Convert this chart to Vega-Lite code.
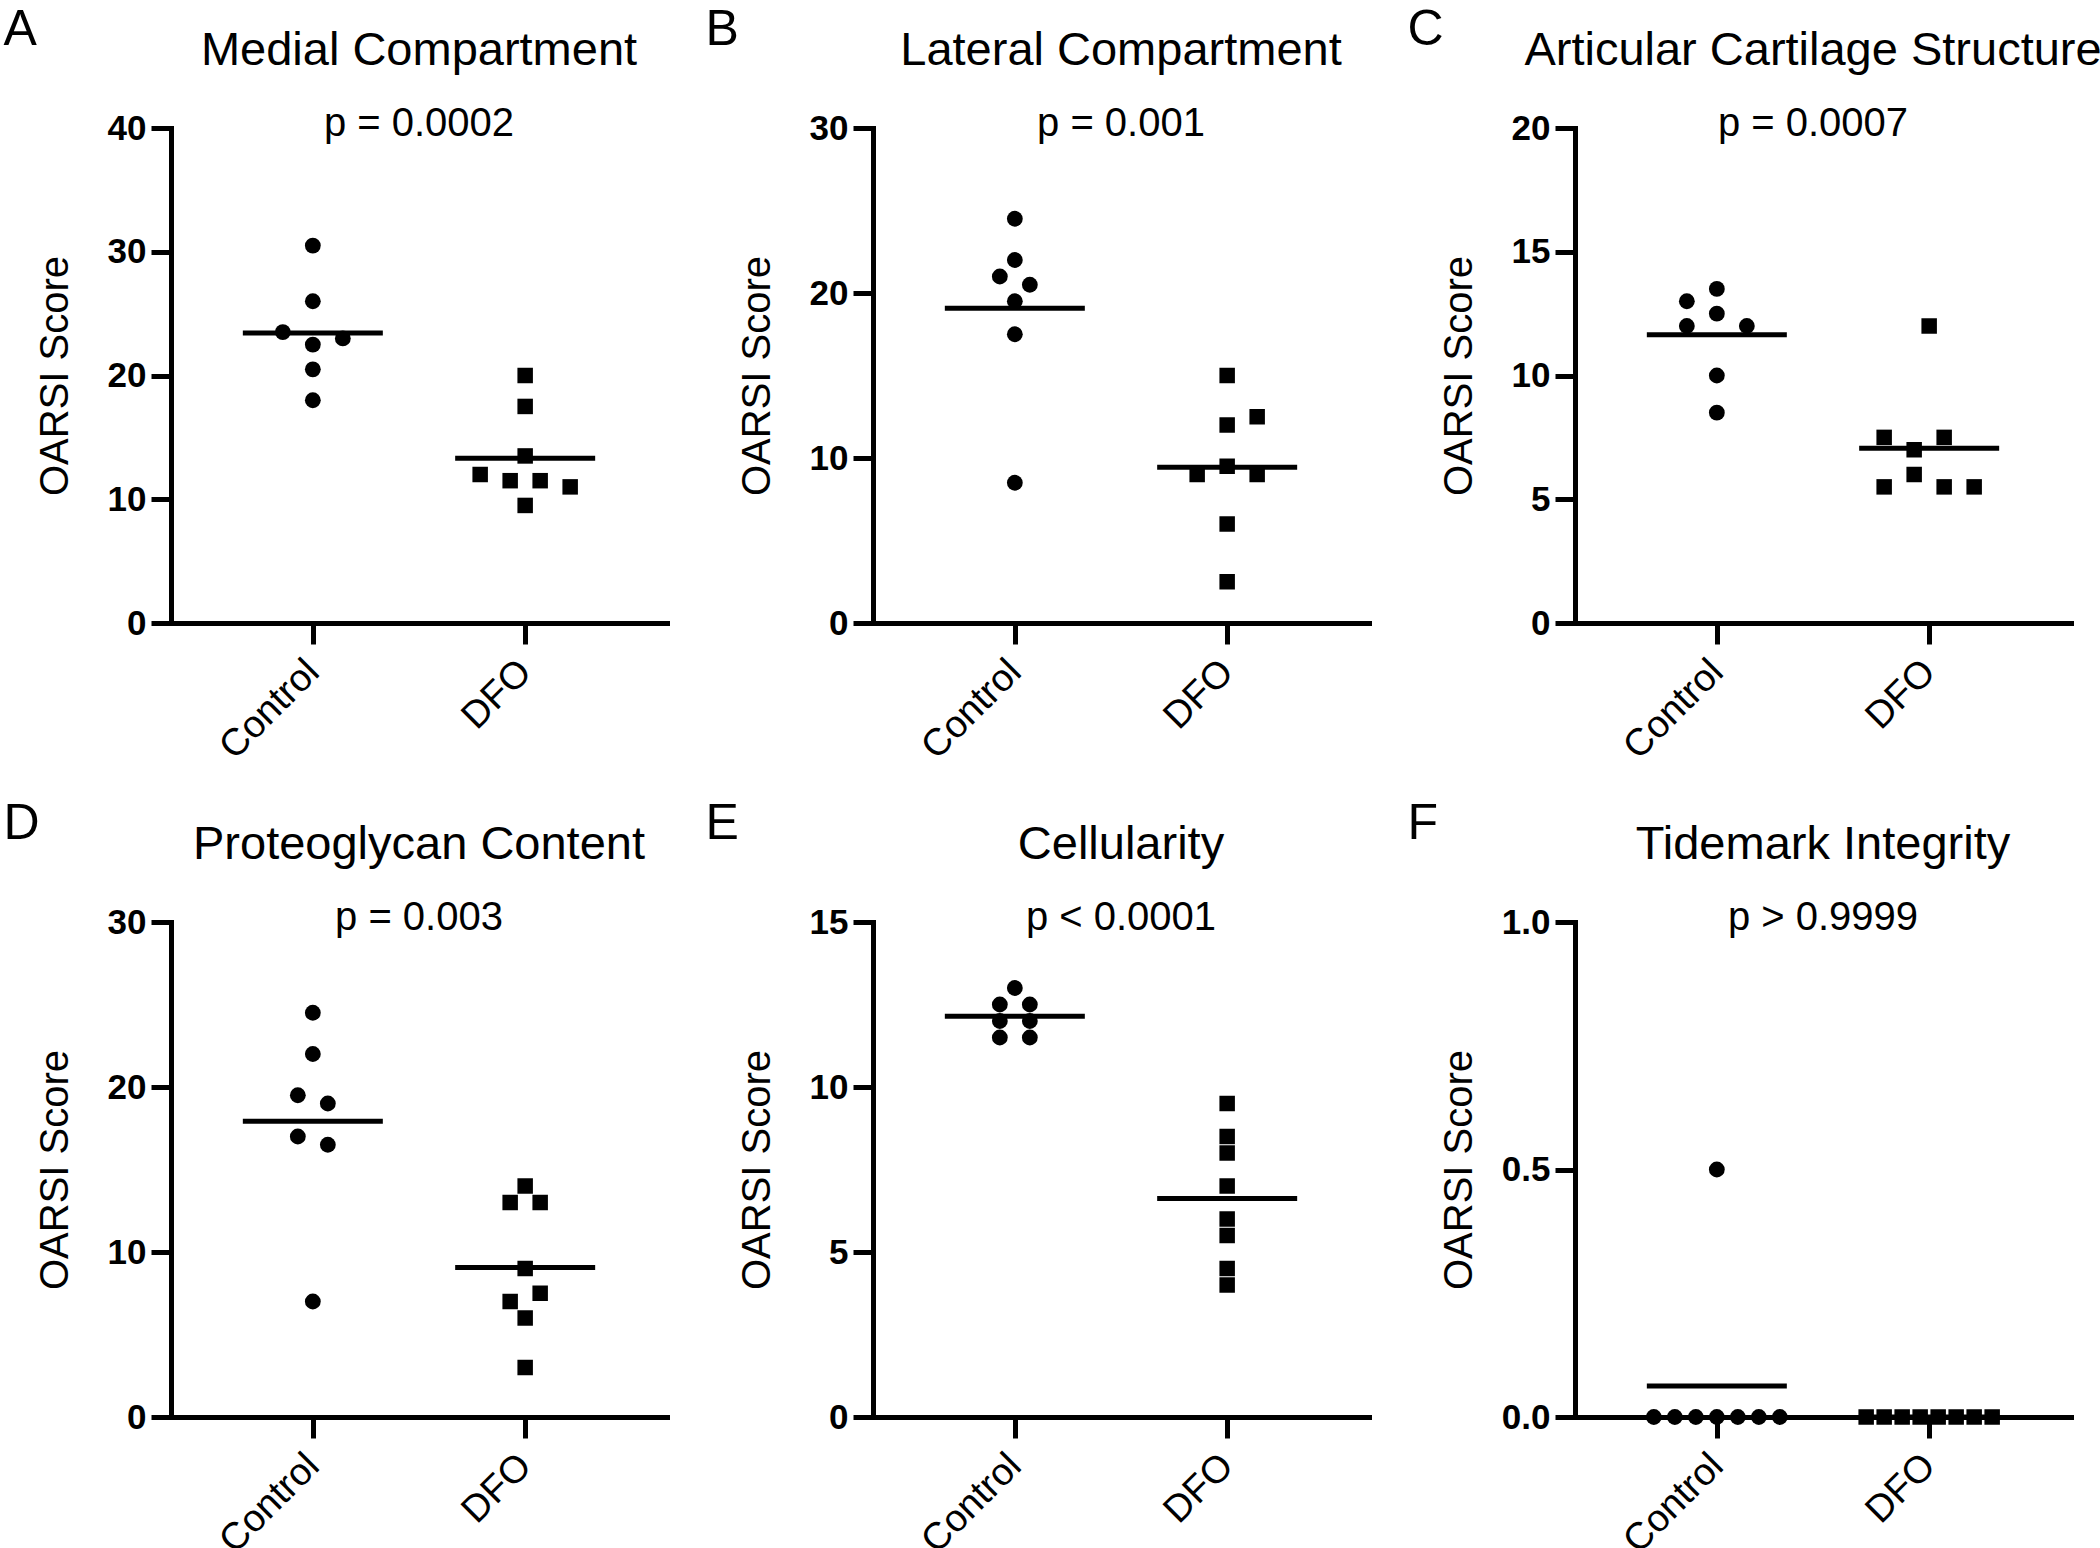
{
  "$schema": "https://vega.github.io/schema/vega-lite/v6.json",
  "padding": {"left": 3, "top": 4, "right": 0, "bottom": 0},
  "background": "white",
  "data": {"values": [
    {"panel": "A", "group": "Control", "score": 30.5, "dodge": 0},
    {"panel": "A", "group": "Control", "score": 26, "dodge": 0},
    {"panel": "A", "group": "Control", "score": 23.5, "dodge": -2},
    {"panel": "A", "group": "Control", "score": 23, "dodge": 2},
    {"panel": "A", "group": "Control", "score": 22.5, "dodge": 0},
    {"panel": "A", "group": "Control", "score": 20.5, "dodge": 0},
    {"panel": "A", "group": "Control", "score": 18, "dodge": 0},
    {"panel": "A", "group": "DFO", "score": 20, "dodge": 0},
    {"panel": "A", "group": "DFO", "score": 17.5, "dodge": 0},
    {"panel": "A", "group": "DFO", "score": 13.5, "dodge": 0},
    {"panel": "A", "group": "DFO", "score": 12, "dodge": -3},
    {"panel": "A", "group": "DFO", "score": 11.5, "dodge": -1},
    {"panel": "A", "group": "DFO", "score": 11.5, "dodge": 1},
    {"panel": "A", "group": "DFO", "score": 11, "dodge": 3},
    {"panel": "A", "group": "DFO", "score": 9.5, "dodge": 0},
    {"panel": "B", "group": "Control", "score": 24.5, "dodge": 0},
    {"panel": "B", "group": "Control", "score": 22, "dodge": 0},
    {"panel": "B", "group": "Control", "score": 21, "dodge": -1},
    {"panel": "B", "group": "Control", "score": 20.5, "dodge": 1},
    {"panel": "B", "group": "Control", "score": 19.5, "dodge": 0},
    {"panel": "B", "group": "Control", "score": 17.5, "dodge": 0},
    {"panel": "B", "group": "Control", "score": 8.5, "dodge": 0},
    {"panel": "B", "group": "DFO", "score": 15, "dodge": 0},
    {"panel": "B", "group": "DFO", "score": 12.5, "dodge": 2},
    {"panel": "B", "group": "DFO", "score": 12, "dodge": 0},
    {"panel": "B", "group": "DFO", "score": 9.5, "dodge": 0},
    {"panel": "B", "group": "DFO", "score": 9, "dodge": -2},
    {"panel": "B", "group": "DFO", "score": 9, "dodge": 2},
    {"panel": "B", "group": "DFO", "score": 6, "dodge": 0},
    {"panel": "B", "group": "DFO", "score": 2.5, "dodge": 0},
    {"panel": "C", "group": "Control", "score": 13.5, "dodge": 0},
    {"panel": "C", "group": "Control", "score": 13, "dodge": -2},
    {"panel": "C", "group": "Control", "score": 12.5, "dodge": 0},
    {"panel": "C", "group": "Control", "score": 12, "dodge": -2},
    {"panel": "C", "group": "Control", "score": 12, "dodge": 2},
    {"panel": "C", "group": "Control", "score": 10, "dodge": 0},
    {"panel": "C", "group": "Control", "score": 8.5, "dodge": 0},
    {"panel": "C", "group": "DFO", "score": 12, "dodge": 0},
    {"panel": "C", "group": "DFO", "score": 7.5, "dodge": -3},
    {"panel": "C", "group": "DFO", "score": 7.5, "dodge": 1},
    {"panel": "C", "group": "DFO", "score": 7, "dodge": -1},
    {"panel": "C", "group": "DFO", "score": 6, "dodge": -1},
    {"panel": "C", "group": "DFO", "score": 5.5, "dodge": -3},
    {"panel": "C", "group": "DFO", "score": 5.5, "dodge": 1},
    {"panel": "C", "group": "DFO", "score": 5.5, "dodge": 3},
    {"panel": "D", "group": "Control", "score": 24.5, "dodge": 0},
    {"panel": "D", "group": "Control", "score": 22, "dodge": 0},
    {"panel": "D", "group": "Control", "score": 19.5, "dodge": -1},
    {"panel": "D", "group": "Control", "score": 19, "dodge": 1},
    {"panel": "D", "group": "Control", "score": 17, "dodge": -1},
    {"panel": "D", "group": "Control", "score": 16.5, "dodge": 1},
    {"panel": "D", "group": "Control", "score": 7, "dodge": 0},
    {"panel": "D", "group": "DFO", "score": 14, "dodge": 0},
    {"panel": "D", "group": "DFO", "score": 13, "dodge": -1},
    {"panel": "D", "group": "DFO", "score": 13, "dodge": 1},
    {"panel": "D", "group": "DFO", "score": 9, "dodge": 0},
    {"panel": "D", "group": "DFO", "score": 7.5, "dodge": 1},
    {"panel": "D", "group": "DFO", "score": 7, "dodge": -1},
    {"panel": "D", "group": "DFO", "score": 6, "dodge": 0},
    {"panel": "D", "group": "DFO", "score": 3, "dodge": 0},
    {"panel": "E", "group": "Control", "score": 13, "dodge": 0},
    {"panel": "E", "group": "Control", "score": 12.5, "dodge": -1},
    {"panel": "E", "group": "Control", "score": 12.5, "dodge": 1},
    {"panel": "E", "group": "Control", "score": 12, "dodge": -1},
    {"panel": "E", "group": "Control", "score": 12, "dodge": 1},
    {"panel": "E", "group": "Control", "score": 11.5, "dodge": -1},
    {"panel": "E", "group": "Control", "score": 11.5, "dodge": 1},
    {"panel": "E", "group": "DFO", "score": 9.5, "dodge": 0},
    {"panel": "E", "group": "DFO", "score": 8.5, "dodge": 0},
    {"panel": "E", "group": "DFO", "score": 8, "dodge": 0},
    {"panel": "E", "group": "DFO", "score": 7, "dodge": 0},
    {"panel": "E", "group": "DFO", "score": 6, "dodge": 0},
    {"panel": "E", "group": "DFO", "score": 5.5, "dodge": 0},
    {"panel": "E", "group": "DFO", "score": 4.5, "dodge": 0},
    {"panel": "E", "group": "DFO", "score": 4, "dodge": 0},
    {"panel": "F", "group": "Control", "score": 0.5, "dodge": 0},
    {"panel": "F", "group": "Control", "score": 0, "dodge": -4.2},
    {"panel": "F", "group": "Control", "score": 0, "dodge": -2.8},
    {"panel": "F", "group": "Control", "score": 0, "dodge": -1.4},
    {"panel": "F", "group": "Control", "score": 0, "dodge": 0},
    {"panel": "F", "group": "Control", "score": 0, "dodge": 1.4},
    {"panel": "F", "group": "Control", "score": 0, "dodge": 2.8},
    {"panel": "F", "group": "Control", "score": 0, "dodge": 4.2},
    {"panel": "F", "group": "DFO", "score": 0, "dodge": -4.2},
    {"panel": "F", "group": "DFO", "score": 0, "dodge": -3},
    {"panel": "F", "group": "DFO", "score": 0, "dodge": -1.8},
    {"panel": "F", "group": "DFO", "score": 0, "dodge": -0.6},
    {"panel": "F", "group": "DFO", "score": 0, "dodge": 0.6},
    {"panel": "F", "group": "DFO", "score": 0, "dodge": 1.8},
    {"panel": "F", "group": "DFO", "score": 0, "dodge": 3},
    {"panel": "F", "group": "DFO", "score": 0, "dodge": 4.2}
  ]},
  "columns": 3,
  "spacing": {"row": 299, "column": 206},
  "bounds": "flush",
  "concat": [
    {
      "width": 496, "height": 495,
      "title": {"text": "Medial Compartment", "subtitle": "p = 0.0002"},
      "transform": [{"filter": {"field": "panel", "equal": "A"}}],
      "resolve": {"axis": {"x": "independent"}},
      "layer": [
        {"mark": {"type": "point", "filled": true, "opacity": 1, "color": "black", "strokeWidth": 0},
         "encoding": {
           "x": {"field": "group", "type": "nominal", "title": null, "scale": {"type": "point", "padding": 0.668, "domain": ["Control", "DFO"]}, "axis": {"orient": "bottom"}},
           "xOffset": {"field": "dodge", "type": "quantitative", "scale": {"domain": [-1, 1], "range": [-15, 15]}},
           "y": {"field": "score", "type": "quantitative", "title": "OARSI Score", "scale": {"domain": [0, 40], "nice": false}, "axis": {"values": [0, 10, 20, 30, 40]}},
           "shape": {"field": "group", "type": "nominal", "scale": {"domain": ["Control", "DFO"], "range": ["circle", "square"]}, "legend": null},
           "size": {"field": "group", "type": "ordinal", "scale": {"domain": ["Control", "DFO"], "range": [250, 240]}, "legend": null}
         }},
        {"mark": {"type": "tick", "color": "black", "size": 140, "thickness": 5, "opacity": 1},
         "encoding": {
           "x": {"field": "group", "type": "nominal", "title": "A", "scale": {"type": "point", "padding": 0.668, "domain": ["Control", "DFO"]}, "axis": {"orient": "top"}},
           "y": {"aggregate": "mean", "field": "score", "type": "quantitative", "title": "OARSI Score", "scale": {"domain": [0, 40], "nice": false}}
         }}
      ]
    },
    {
      "width": 496, "height": 495,
      "title": {"text": "Lateral Compartment", "subtitle": "p = 0.001"},
      "transform": [{"filter": {"field": "panel", "equal": "B"}}],
      "resolve": {"axis": {"x": "independent"}},
      "layer": [
        {"mark": {"type": "point", "filled": true, "opacity": 1, "color": "black", "strokeWidth": 0},
         "encoding": {
           "x": {"field": "group", "type": "nominal", "title": null, "scale": {"type": "point", "padding": 0.668, "domain": ["Control", "DFO"]}, "axis": {"orient": "bottom"}},
           "xOffset": {"field": "dodge", "type": "quantitative", "scale": {"domain": [-1, 1], "range": [-15, 15]}},
           "y": {"field": "score", "type": "quantitative", "title": "OARSI Score", "scale": {"domain": [0, 30], "nice": false}, "axis": {"values": [0, 10, 20, 30]}},
           "shape": {"field": "group", "type": "nominal", "scale": {"domain": ["Control", "DFO"], "range": ["circle", "square"]}, "legend": null},
           "size": {"field": "group", "type": "ordinal", "scale": {"domain": ["Control", "DFO"], "range": [250, 240]}, "legend": null}
         }},
        {"mark": {"type": "tick", "color": "black", "size": 140, "thickness": 5, "opacity": 1},
         "encoding": {
           "x": {"field": "group", "type": "nominal", "title": "B", "scale": {"type": "point", "padding": 0.668, "domain": ["Control", "DFO"]}, "axis": {"orient": "top"}},
           "y": {"aggregate": "mean", "field": "score", "type": "quantitative", "title": "OARSI Score", "scale": {"domain": [0, 30], "nice": false}}
         }}
      ]
    },
    {
      "width": 496, "height": 495,
      "title": {"text": "Articular Cartilage Structure", "subtitle": "p = 0.0007", "dx": -10},
      "transform": [{"filter": {"field": "panel", "equal": "C"}}],
      "resolve": {"axis": {"x": "independent"}},
      "layer": [
        {"mark": {"type": "point", "filled": true, "opacity": 1, "color": "black", "strokeWidth": 0},
         "encoding": {
           "x": {"field": "group", "type": "nominal", "title": null, "scale": {"type": "point", "padding": 0.668, "domain": ["Control", "DFO"]}, "axis": {"orient": "bottom"}},
           "xOffset": {"field": "dodge", "type": "quantitative", "scale": {"domain": [-1, 1], "range": [-15, 15]}},
           "y": {"field": "score", "type": "quantitative", "title": "OARSI Score", "scale": {"domain": [0, 20], "nice": false}, "axis": {"values": [0, 5, 10, 15, 20]}},
           "shape": {"field": "group", "type": "nominal", "scale": {"domain": ["Control", "DFO"], "range": ["circle", "square"]}, "legend": null},
           "size": {"field": "group", "type": "ordinal", "scale": {"domain": ["Control", "DFO"], "range": [250, 240]}, "legend": null}
         }},
        {"mark": {"type": "tick", "color": "black", "size": 140, "thickness": 5, "opacity": 1},
         "encoding": {
           "x": {"field": "group", "type": "nominal", "title": "C", "scale": {"type": "point", "padding": 0.668, "domain": ["Control", "DFO"]}, "axis": {"orient": "top"}},
           "y": {"aggregate": "mean", "field": "score", "type": "quantitative", "title": "OARSI Score", "scale": {"domain": [0, 20], "nice": false}}
         }}
      ]
    },
    {
      "width": 496, "height": 495,
      "title": {"text": "Proteoglycan Content", "subtitle": "p = 0.003"},
      "transform": [{"filter": {"field": "panel", "equal": "D"}}],
      "resolve": {"axis": {"x": "independent"}},
      "layer": [
        {"mark": {"type": "point", "filled": true, "opacity": 1, "color": "black", "strokeWidth": 0},
         "encoding": {
           "x": {"field": "group", "type": "nominal", "title": null, "scale": {"type": "point", "padding": 0.668, "domain": ["Control", "DFO"]}, "axis": {"orient": "bottom"}},
           "xOffset": {"field": "dodge", "type": "quantitative", "scale": {"domain": [-1, 1], "range": [-15, 15]}},
           "y": {"field": "score", "type": "quantitative", "title": "OARSI Score", "scale": {"domain": [0, 30], "nice": false}, "axis": {"values": [0, 10, 20, 30]}},
           "shape": {"field": "group", "type": "nominal", "scale": {"domain": ["Control", "DFO"], "range": ["circle", "square"]}, "legend": null},
           "size": {"field": "group", "type": "ordinal", "scale": {"domain": ["Control", "DFO"], "range": [250, 240]}, "legend": null}
         }},
        {"mark": {"type": "tick", "color": "black", "size": 140, "thickness": 5, "opacity": 1},
         "encoding": {
           "x": {"field": "group", "type": "nominal", "title": "D", "scale": {"type": "point", "padding": 0.668, "domain": ["Control", "DFO"]}, "axis": {"orient": "top"}},
           "y": {"aggregate": "mean", "field": "score", "type": "quantitative", "title": "OARSI Score", "scale": {"domain": [0, 30], "nice": false}}
         }}
      ]
    },
    {
      "width": 496, "height": 495,
      "title": {"text": "Cellularity", "subtitle": "p < 0.0001"},
      "transform": [{"filter": {"field": "panel", "equal": "E"}}],
      "resolve": {"axis": {"x": "independent"}},
      "layer": [
        {"mark": {"type": "point", "filled": true, "opacity": 1, "color": "black", "strokeWidth": 0},
         "encoding": {
           "x": {"field": "group", "type": "nominal", "title": null, "scale": {"type": "point", "padding": 0.668, "domain": ["Control", "DFO"]}, "axis": {"orient": "bottom"}},
           "xOffset": {"field": "dodge", "type": "quantitative", "scale": {"domain": [-1, 1], "range": [-15, 15]}},
           "y": {"field": "score", "type": "quantitative", "title": "OARSI Score", "scale": {"domain": [0, 15], "nice": false}, "axis": {"values": [0, 5, 10, 15]}},
           "shape": {"field": "group", "type": "nominal", "scale": {"domain": ["Control", "DFO"], "range": ["circle", "square"]}, "legend": null},
           "size": {"field": "group", "type": "ordinal", "scale": {"domain": ["Control", "DFO"], "range": [250, 240]}, "legend": null}
         }},
        {"mark": {"type": "tick", "color": "black", "size": 140, "thickness": 5, "opacity": 1},
         "encoding": {
           "x": {"field": "group", "type": "nominal", "title": "E", "scale": {"type": "point", "padding": 0.668, "domain": ["Control", "DFO"]}, "axis": {"orient": "top"}},
           "y": {"aggregate": "mean", "field": "score", "type": "quantitative", "title": "OARSI Score", "scale": {"domain": [0, 15], "nice": false}}
         }}
      ]
    },
    {
      "width": 496, "height": 495,
      "title": {"text": "Tidemark Integrity", "subtitle": "p > 0.9999"},
      "transform": [{"filter": {"field": "panel", "equal": "F"}}],
      "resolve": {"axis": {"x": "independent"}},
      "layer": [
        {"mark": {"type": "point", "filled": true, "opacity": 1, "color": "black", "strokeWidth": 0},
         "encoding": {
           "x": {"field": "group", "type": "nominal", "title": null, "scale": {"type": "point", "padding": 0.668, "domain": ["Control", "DFO"]}, "axis": {"orient": "bottom"}},
           "xOffset": {"field": "dodge", "type": "quantitative", "scale": {"domain": [-1, 1], "range": [-15, 15]}},
           "y": {"field": "score", "type": "quantitative", "title": "OARSI Score", "scale": {"domain": [0, 1], "nice": false}, "axis": {"values": [0, 0.5, 1], "format": ".1f"}},
           "shape": {"field": "group", "type": "nominal", "scale": {"domain": ["Control", "DFO"], "range": ["circle", "square"]}, "legend": null},
           "size": {"field": "group", "type": "ordinal", "scale": {"domain": ["Control", "DFO"], "range": [250, 240]}, "legend": null}
         }},
        {"mark": {"type": "tick", "color": "black", "size": 140, "thickness": 5, "opacity": 1},
         "encoding": {
           "x": {"field": "group", "type": "nominal", "title": "F", "scale": {"type": "point", "padding": 0.668, "domain": ["Control", "DFO"]}, "axis": {"orient": "top"}},
           "y": {"aggregate": "mean", "field": "score", "type": "quantitative", "title": "OARSI Score", "scale": {"domain": [0, 1], "nice": false}}
         }}
      ]
    }
  ],
  "config": {
    "font": "Liberation Sans",
    "view": {"stroke": null},
    "title": {"anchor": "middle", "frame": "group", "fontSize": 47, "fontWeight": "normal", "color": "black", "subtitleFontSize": 40, "subtitleColor": "black", "subtitleFont": "Liberation Sans", "offset": -141, "subtitlePadding": 29},
    "axisLeft": {"domainColor": "black", "domainWidth": 5, "domainCap": "square", "tickColor": "black", "tickWidth": 5, "tickSize": 20, "labelFontSize": 35, "labelFontWeight": "bold", "labelColor": "black", "labelPadding": 5, "grid": false, "titleFontSize": 40, "titleFontWeight": "normal", "titleColor": "black", "titleX": -104, "titleBaseline": "alphabetic"},
    "axisBottom": {"domainColor": "black", "domainWidth": 5, "domainCap": "square", "tickColor": "black", "tickWidth": 5, "tickSize": 21, "labelAngle": -45, "labelFontSize": 38, "labelColor": "black", "labelPadding": 22, "labelAlign": "right", "labelBaseline": "middle", "grid": false},
    "axisTop": {"domain": false, "ticks": false, "labels": false, "grid": false, "titleFontSize": 50, "titleFontWeight": "normal", "titleColor": "black", "titleX": -168, "titleY": -84, "titleAlign": "left", "titleBaseline": "alphabetic", "titleAngle": 0}
  }
}
